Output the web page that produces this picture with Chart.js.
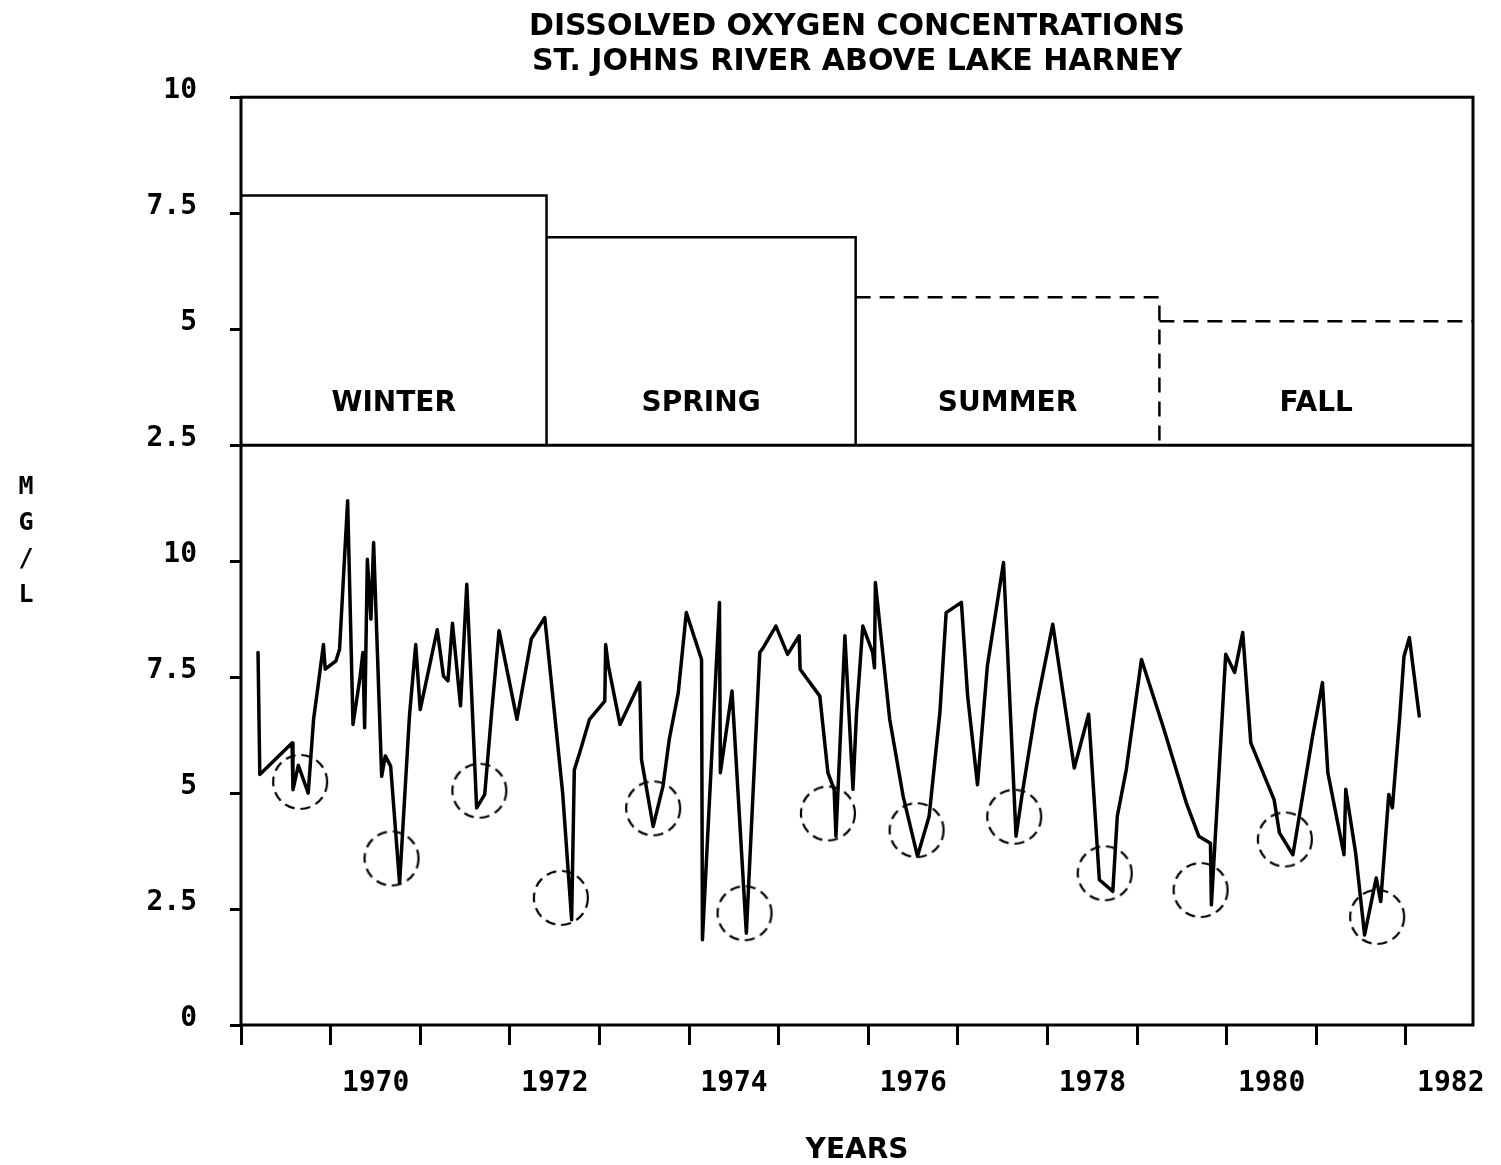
<!DOCTYPE html>
<html>
<head>
<meta charset="utf-8">
<title>Dissolved Oxygen Concentrations</title>
<script src="https://cdn.jsdelivr.net/npm/chart.js@4.4.1/dist/chart.umd.min.js"></script>
<style>
  html, body { margin: 0; padding: 0; background: #fff; }
</style>
</head>
<body>
<canvas id="doChart" width="1501" height="1165"></canvas>
<script>
// ─── DATI ─────────────────────────────────────────────────────────
// serie storica dell'ossigeno disciolto (anno decimale, mg/l)
const doYears = [
  1969.19, 1969.21, 1969.57, 1969.58, 1969.64, 1969.75, 1969.81, 1969.85,
  1969.92, 1969.94, 1970.06, 1970.10, 1970.19, 1970.25, 1970.33, 1970.36,
  1970.38, 1970.41, 1970.45, 1970.48, 1970.57, 1970.61, 1970.67, 1970.77,
  1970.88, 1970.95, 1971.00, 1971.19, 1971.26, 1971.31, 1971.36, 1971.45,
  1971.52, 1971.63, 1971.72, 1971.80, 1971.88, 1972.08, 1972.24, 1972.39,
  1972.59, 1972.69, 1972.72, 1972.78, 1972.89, 1973.06, 1973.07, 1973.10,
  1973.23, 1973.45, 1973.47, 1973.60, 1973.71, 1973.78, 1973.88, 1973.97,
  1974.14, 1974.15, 1974.34, 1974.35, 1974.48, 1974.64, 1974.79, 1974.83,
  1974.97, 1975.10, 1975.23, 1975.24, 1975.46, 1975.55, 1975.62, 1975.64,
  1975.74, 1975.83, 1975.87, 1975.94, 1976.05, 1976.07, 1976.08, 1976.24,
  1976.39, 1976.55, 1976.68, 1976.80, 1976.87, 1977.04, 1977.11, 1977.22,
  1977.33, 1977.51, 1977.65, 1977.72, 1977.87, 1978.06, 1978.30, 1978.46,
  1978.58, 1978.73, 1978.78, 1978.88, 1979.05, 1979.29, 1979.55, 1979.69,
  1979.82, 1979.83, 1979.90, 1979.99, 1980.09, 1980.18, 1980.27, 1980.53,
  1980.59, 1980.74, 1980.96, 1981.07, 1981.13, 1981.31, 1981.33, 1981.44,
  1981.54, 1981.67, 1981.72, 1981.81, 1981.85, 1981.93, 1981.98, 1982.04,
  1982.15,
];
const doValues = [
  8.03, 5.40, 6.08, 5.07, 5.60, 5.00, 6.59, 7.16,
  8.20, 7.67, 7.85, 8.10, 11.30, 6.48, 7.52, 8.03,
  6.41, 10.04, 8.75, 10.40, 5.36, 5.80, 5.58, 3.06,
  6.66, 8.20, 6.80, 8.52, 7.52, 7.42, 8.66, 6.88,
  9.50, 4.68, 4.97, 6.80, 8.50, 6.59, 8.32, 8.78,
  5.00, 2.27, 5.50, 5.87, 6.59, 6.98, 8.20, 7.74,
  6.48, 7.38, 5.72, 4.28, 5.15, 6.16, 7.16, 8.89,
  7.88, 1.84, 9.11, 5.44, 7.20, 1.98, 8.03, 8.14,
  8.60, 7.99, 8.39, 7.67, 7.09, 5.44, 5.08, 4.07,
  8.39, 5.08, 6.73, 8.60, 8.03, 7.70, 9.54, 6.59,
  4.93, 3.64, 4.50, 6.73, 8.89, 9.11, 7.09, 5.18,
  7.74, 9.97, 4.07, 5.00, 6.80, 8.64, 5.54, 6.70,
  3.13, 2.88, 4.50, 5.50, 7.88, 6.44, 4.79, 4.07,
  3.92, 2.59, 4.93, 7.99, 7.60, 8.46, 6.08, 4.86,
  4.14, 3.67, 6.23, 7.38, 5.44, 3.67, 5.08, 3.71,
  1.94, 3.17, 2.66, 4.97, 4.68, 6.59, 7.95, 8.35,
  6.66,
];

// minimi annuali cerchiati
const circleYears = [
  1969.66, 1970.68, 1971.66, 1972.57, 1973.60, 1974.62, 1975.55,
  1976.54, 1977.63, 1978.64, 1979.71, 1980.65, 1981.68,
];
const circleValues = [
  5.24, 3.59, 5.05, 2.74, 4.67, 2.41, 4.56,
  4.20, 4.49, 3.27, 2.91, 4.00, 2.33,
];

// medie stagionali (pannello superiore)
const seasons = ["WINTER", "SPRING", "SUMMER", "FALL"];
const seasonMeans = [7.88, 6.98, 5.69, 5.17];
const seasonEdges = [1969, 1972.41, 1975.86, 1979.25, 1982.75];

// assi
const yearTicks = [
  1969, 1970, 1971, 1972, 1973, 1974, 1975,
  1976, 1977, 1978, 1979, 1980, 1981, 1982,
];
const lowerTicks = [0, 2.5, 5, 7.5, 10];
const upperTicks = [2.5, 5, 7.5, 10];
const titleLines = [
  "DISSOLVED OXYGEN CONCENTRATIONS",
  "ST. JOHNS RIVER ABOVE LAKE HARNEY",
];
const unitLetters = ["M", "G", "/", "L"];

// il pannello superiore sta 10 unità sopra quello inferiore, stesso asse
const PANEL_SHIFT = 10;
const PANEL_BASE = PANEL_SHIFT + upperTicks[0];

const INK = "#000";
const MONO = "'DejaVu Sans Mono', monospace";
const SANS = "'DejaVu Sans', sans-serif";
const seasonDashed = [false, false, true, true];

// ─── CERCHIO TRATTEGGIATO (pointStyle) ────────────────────────────
function dashedRing(r) {
  const size = r * 2 + 6;
  const c = document.createElement("canvas");
  c.width = size;
  c.height = size;
  const g = c.getContext("2d");
  g.strokeStyle = INK;
  g.lineWidth = 2.2;
  g.setLineDash([10, 6]);
  g.beginPath();
  g.arc(size / 2, size / 2, r, 0, Math.PI * 2);
  g.stroke();
  return c;
}

// ─── DATASET ──────────────────────────────────────────────────────
const seasonSets = seasons.map((name, i) => {
  const y = seasonMeans[i] + PANEL_SHIFT;
  const pts = [
    { x: seasonEdges[i], y },
    { x: seasonEdges[i + 1], y },
  ];
  if (i < seasons.length - 1) pts.push({ x: seasonEdges[i + 1], y: PANEL_BASE });
  return {
    label: name,
    data: pts,
    borderColor: INK,
    borderWidth: 2.5,
    borderDash: seasonDashed[i] ? [15, 9] : [],
    pointRadius: 0,
    tension: 0,
    fill: false,
  };
});

const seriesSet = {
  label: "MG/L",
  data: doYears.map((x, i) => ({ x, y: doValues[i] })),
  borderColor: INK,
  borderWidth: 3.5,
  borderJoinStyle: "round",
  borderCapStyle: "round",
  pointRadius: 0,
  tension: 0,
  fill: false,
};

const circleSet = {
  type: "scatter",
  label: "minimi",
  data: circleYears.map((x, i) => ({ x, y: circleValues[i] })),
  pointStyle: dashedRing(27),
  pointRadius: 27,
  showLine: false,
};

// ─── CORNICE, SEPARATORE, ETICHETTE ───────────────────────────────
const framePlugin = {
  id: "frame",
  afterDatasetsDraw(chart) {
    const { ctx, chartArea: a, scales } = chart;
    const ySep = scales.y.getPixelForValue(PANEL_BASE);
    ctx.save();
    ctx.strokeStyle = INK;
    ctx.lineWidth = 3;
    ctx.strokeRect(a.left, a.top, a.right - a.left, a.bottom - a.top);
    ctx.beginPath();
    ctx.moveTo(a.left, ySep);
    ctx.lineTo(a.right, ySep);
    ctx.stroke();
    ctx.restore();
  },
  afterDraw(chart) {
    const { ctx, chartArea: a, scales } = chart;
    const ySep = scales.y.getPixelForValue(PANEL_BASE);
    ctx.save();
    ctx.fillStyle = INK;
    ctx.textAlign = "center";
    ctx.textBaseline = "middle";

    // nomi delle stagioni
    ctx.font = `bold 28px ${SANS}`;
    seasons.forEach((name, i) => {
      const x0 = scales.x.getPixelForValue(seasonEdges[i]);
      const x1 = scales.x.getPixelForValue(seasonEdges[i + 1]);
      ctx.fillText(name, (x0 + x1) / 2, ySep - 41);
    });

    // unità verticale
    ctx.font = `bold 25px ${MONO}`;
    unitLetters.forEach((ch, i) => {
      ctx.fillText(ch, 26, a.top + 390 + i * 36);
    });
    ctx.restore();
  },
};

// ─── GRAFICO ──────────────────────────────────────────────────────
const tickFont = { family: MONO, size: 28, weight: "bold" };

new Chart(document.getElementById("doChart"), {
  type: "line",
  data: { datasets: [...seasonSets, seriesSet, circleSet] },
  plugins: [framePlugin],
  options: {
    responsive: false,
    animation: false,
    events: [],
    layout: { padding: { top: 0, right: 27, bottom: 0, left: 0 } },
    plugins: {
      legend: { display: false },
      tooltip: { enabled: false },
      title: {
        display: true,
        fullSize: false,
        text: titleLines,
        color: INK,
        font: { family: SANS, size: 30, weight: "bold", lineHeight: 1.17 },
        padding: { top: 10, bottom: 17 },
      },
    },
    scales: {
      x: {
        type: "linear",
        min: seasonEdges[0],
        max: seasonEdges[seasonEdges.length - 1],
        afterBuildTicks: (s) => {
          s.ticks = yearTicks.map((v) => ({ value: v }));
        },
        afterFit: (s) => {
          s.height = 140;
        },
        border: { display: false },
        grid: {
          drawOnChartArea: false,
          drawTicks: true,
          tickLength: 20,
          tickWidth: 3,
          tickColor: INK,
        },
        ticks: {
          autoSkip: false,
          maxRotation: 0,
          labelOffset: 45,
          padding: 22,
          color: INK,
          font: tickFont,
          callback: (v) => (v % 2 === 0 ? String(v) : ""),
        },
        title: {
          display: true,
          text: "YEARS",
          color: INK,
          font: { family: SANS, size: 28, weight: "bold", lineHeight: 1 },
          padding: { top: 0, bottom: 0 },
        },
      },
      y: {
        type: "linear",
        min: 0,
        max: PANEL_SHIFT + upperTicks[upperTicks.length - 1],
        afterBuildTicks: (s) => {
          s.ticks = [...lowerTicks, ...upperTicks.map((v) => v + PANEL_SHIFT)]
            .map((v) => ({ value: v }));
        },
        afterFit: (s) => {
          s.width = 241;
        },
        border: { display: false },
        grid: {
          drawOnChartArea: false,
          drawTicks: true,
          tickLength: 11,
          tickWidth: 3,
          tickColor: INK,
        },
        ticks: {
          padding: 33,
          labelOffset: -6,
          color: INK,
          font: tickFont,
          callback: (v) => String(v > PANEL_SHIFT ? v - PANEL_SHIFT : v),
        },
      },
    },
  },
});
</script>
</body>
</html>
